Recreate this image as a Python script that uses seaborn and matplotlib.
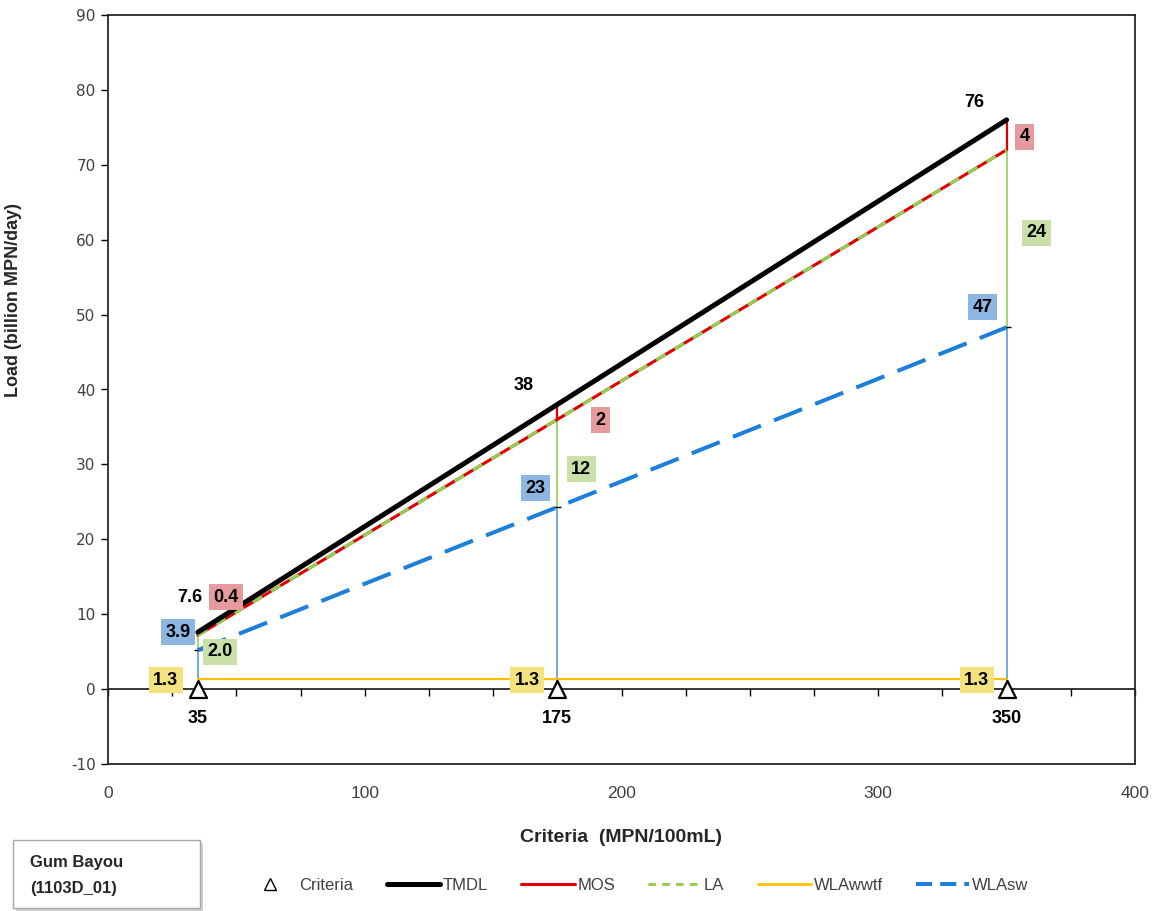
import numpy as np
import pandas as pd
import matplotlib
matplotlib.use("Agg")
import matplotlib.pyplot as plt
from matplotlib import font_manager
from matplotlib.lines import Line2D
from matplotlib.patches import Rectangle
import seaborn as sns

# Load duration allocation at each criteria level (billion MPN/day)
criteria = [35, 175, 350]
tmdl = [7.6, 38, 76]
mos = [0.4, 2, 4]
la = [2.0, 12, 24]
wla_wwtf = [1.3, 1.3, 1.3]
wla_sw = [3.9, 23, 47]

x_ticks = [0, 100, 200, 300, 400]
y_ticks = list(range(-10, 91, 10))
tmdl_labels = ["7.6", "38", "76"]
mos_labels = ["0.4", "2", "4"]
la_labels = ["2.0", "12", "24"]
wwtf_labels = ["1.3", "1.3", "1.3"]
sw_labels = ["3.9", "23", "47"]
criteria_labels = ["35", "175", "350"]

sns.set_theme(style="ticks")
installed = {f.name for f in font_manager.fontManager.ttflist}
NARROW = "Liberation Sans Narrow" if "Liberation Sans Narrow" in installed else "Liberation Sans"
plt.rcParams["font.family"] = ["Liberation Sans", "DejaVu Sans"]
plt.rcParams["axes.unicode_minus"] = False

df = pd.DataFrame({"criteria": criteria, "tmdl": tmdl, "mos": mos, "la": la,
                   "wwtf": wla_wwtf, "sw": wla_sw})
df["la_top"] = df["tmdl"] - df["mos"]          # top of LA + WLA stack
df["sw_top"] = df["wwtf"] + df["sw"]           # top of WLA stack

C_TMDL = "black"
C_MOS = "#E00000"
C_LA = "#92D050"
C_WWTF = "#FFC000"
C_SW = "#1E7FD8"
C_SW_V = "#5B9BD5"
BOX_MOS = "#E59A9D"
BOX_LA = "#C9E0A9"
BOX_WWTF = "#F4E27E"
BOX_SW = "#8DB6E3"

W, H, DPI = 1159, 911, 100
fig = plt.figure(figsize=(W / DPI, H / DPI), dpi=DPI, facecolor="white")
ax = fig.add_axes([108 / W, 1 - 764 / H, (1135 - 108) / W, (764 - 15) / H])
ax.set_facecolor("white")

# vertical allocation segments at each criterion
ax.vlines(df["criteria"], df["wwtf"], df["sw_top"], color=C_SW_V, lw=1.2, zorder=2)
ax.vlines(df["criteria"][1:], 0, df["wwtf"][1:], color=C_SW_V, lw=1.2, zorder=2)
ax.vlines(df["criteria"], df["sw_top"], df["la_top"], color=C_LA, lw=1.2, zorder=2)
ax.vlines(df["criteria"], df["la_top"], df["tmdl"], color=C_MOS, lw=1.6, zorder=2)
ax.scatter(df["criteria"], df["sw_top"], marker="_", s=30, color="black", lw=1, zorder=2)

sns.lineplot(data=df, x="criteria", y="wwtf", color=C_WWTF, lw=1.6, ax=ax,
             legend=False, zorder=3)
sns.lineplot(data=df, x="criteria", y="sw_top", color=C_SW, lw=2.9, ax=ax,
             linestyle=(0, (7.5, 3.5)), legend=False, zorder=3)
sns.lineplot(data=df, x="criteria", y="la_top", color=C_MOS, lw=2.2, ax=ax,
             legend=False, zorder=4)
sns.lineplot(data=df, x="criteria", y="la_top", color=C_LA, lw=2.2, ax=ax,
             linestyle=(0, (3.5, 3.5)), legend=False, zorder=4)
sns.lineplot(data=df, x="criteria", y="tmdl", color=C_TMDL, lw=3.6, ax=ax,
             legend=False, zorder=5)

# criteria markers on the zero line
ax.axhline(0, color="black", lw=1.1, zorder=1)
sec = ax.secondary_xaxis(0.1)
sec.set_xticks(np.arange(0, 401, 25))
sec.tick_params(axis="x", direction="out", length=5, width=1, color="black",
                labelbottom=False)
sec.spines["bottom"].set_visible(False)
sns.scatterplot(x=df["criteria"], y=np.zeros(len(df)), marker="^", s=150,
                facecolor="white", edgecolor="black", linewidth=1.6, ax=ax,
                zorder=6, legend=False)

lab_kw = dict(textcoords="offset pixels", ha="center", va="center",
              fontsize=13, fontweight="bold", color="black", zorder=7)

def box(c):
    return dict(boxstyle="square,pad=0.25", fc=c, ec="none")

tmdl_off = [(-8, 35), (-34, 19), (-32, 17)]
mos_off = [(28, 35), (43, -16), (18, -17)]
la_off = [(22, -9), (24, -6), (30, 6)]
sw_off = [(-20, 18), (-22, 19), (-24, 20)]
wwtf_off = [(-32, -1), (-30, -1), (-30, -1)]

for i, row in df.iterrows():
    x = row["criteria"]
    ax.annotate(tmdl_labels[i], (x, row["tmdl"]), xytext=tmdl_off[i], **lab_kw)
    ax.annotate(mos_labels[i], (x, row["tmdl"]), xytext=mos_off[i],
                bbox=box(BOX_MOS), **lab_kw)
    ax.annotate(la_labels[i], (x, (row["la_top"] + row["sw_top"]) / 2),
                xytext=la_off[i], bbox=box(BOX_LA), **lab_kw)
    ax.annotate(sw_labels[i], (x, row["sw_top"]), xytext=sw_off[i],
                bbox=box(BOX_SW), **lab_kw)
    ax.annotate(wwtf_labels[i], (x, row["wwtf"]), xytext=wwtf_off[i],
                bbox=box(BOX_WWTF), **lab_kw)
    ax.annotate(criteria_labels[i], (x, 0), xytext=(0, -29), **lab_kw)

ax.set_xlim(0, 400)
ax.set_ylim(-10, 90)
ax.set_xticks(x_ticks)
ax.set_yticks(y_ticks)
ax.tick_params(axis="x", length=0, pad=16, labelsize=12.5, labelcolor="#404040")
ax.tick_params(axis="y", direction="out", length=5, width=1, pad=4,
               labelsize=11, labelcolor="#404040", color="black")
for lbl in ax.get_xticklabels():
    lbl.set_family(NARROW)
for lbl in ax.get_yticklabels():
    lbl.set_family("DejaVu Sans")
for sp in ax.spines.values():
    sp.set_visible(True)
    sp.set_color("#262626")
    sp.set_linewidth(1.3)

ax.set_xlabel("Criteria  (MPN/100mL)", fontsize=14, fontweight="bold",
              family=NARROW, labelpad=0)
ax.xaxis.set_label_coords(0.5, (764 - 829) / (764 - 15))
ax.set_ylabel("Load (billion MPN/day)", fontsize=13, fontweight="bold",
              family=NARROW)
ax.yaxis.set_label_coords((22 - 108) / (1135 - 108), (764 - 300) / (764 - 15))

# legend along the bottom
handles = [
    Line2D([], [], marker="^", ls="none", mfc="white", mec="black", ms=8, mew=1),
    Line2D([], [], color=C_TMDL, lw=3.6),
    Line2D([], [], color=C_MOS, lw=2.2),
    Line2D([], [], color=C_LA, lw=2.2, ls=(0, (2.5, 2.0))),
    Line2D([], [], color=C_WWTF, lw=2.0),
    Line2D([], [], color=C_SW, lw=2.9, ls=(0, (4.0, 2.0))),
]
names = ["Criteria", "TMDL", "MOS", "LA", "WLAwwtf", "WLAsw"]
fig.legend(handles, names, loc="center", bbox_to_anchor=(636 / W, 1 - 885 / H),
           ncol=6, frameon=False, handlelength=3.2, handletextpad=0.15,
           columnspacing=2.0, prop={"family": "Liberation Sans", "size": 12},
           labelcolor="#404040")

# site identification box
fig.add_artist(Rectangle((16 / W, 1 - 911 / H), 187 / W, 68 / H,
                         transform=fig.transFigure, fc="#CFCFCF", ec="none", zorder=1))
fig.add_artist(Rectangle((13 / W, 1 - 908 / H), 187 / W, 68 / H,
                         transform=fig.transFigure, fc="white", ec="#A6A6A6",
                         lw=1, zorder=2))
fig.text(30 / W, 1 - 863 / H, "Gum Bayou", fontsize=12, fontweight="bold",
         family=NARROW, va="center", ha="left", color="#262626", zorder=3)
fig.text(30 / W, 1 - 888 / H, "(1103D_01)", fontsize=12, fontweight="bold",
         family=NARROW, va="center", ha="left", color="#262626", zorder=3)

fig.savefig("out.png", dpi=DPI, facecolor="white")
